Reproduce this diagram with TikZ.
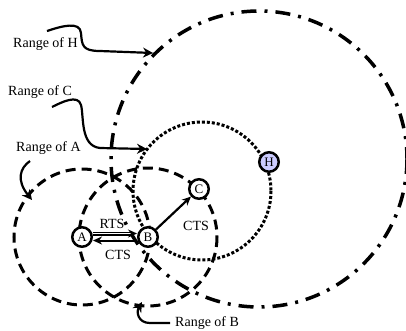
\documentclass[tikz,border=0pt]{standalone}
\usepackage{fontspec}
\setmainfont{Liberation Serif}
\usetikzlibrary{arrows.meta}
\definecolor{hostfill}{RGB}{204,204,255}
\tikzset{
  station/.style={circle, draw, line width=2.5pt, fill=white, minimum size=19.5pt, inner sep=0pt, font=\fontsize{13}{13}\selectfont},
  rangeA/.style={line width=3pt, dash pattern=on 10pt off 6pt},
  rangeC/.style={line width=3pt, dash pattern=on 3pt off 2pt},
  rangeH/.style={line width=3.5pt, dash pattern=on 15pt off 8pt on 3pt off 8pt},
  pointer/.style={line width=2.2pt, -{Stealth[length=10pt,width=10pt]}},
  lbl/.style={font=\fontsize{14}{14}\selectfont, inner sep=0pt},
  msg/.style={line width=1.2pt, double, double distance=1.6pt, -{Stealth[length=9pt,width=8pt]}},
}
\begin{document}
\begin{tikzpicture}[x=1pt,y=-1pt]
\useasboundingbox (0,0) rectangle (406,330);
\begin{scope}
\clip (0,0) rectangle (406,330);
% transmission ranges
\draw[rangeH] (259,159) circle (148);
\draw[rangeA] (82,237) circle (68);
\draw[rangeA] (148,237) circle (69);
\draw[rangeC] (202,191) circle (69);
\end{scope}

% stations
\node[station] (A) at (82,237) {A};
\node[station] (B) at (148,237) {B};
\node[station] (C) at (199,189) {C};
\node[station, fill=hostfill] (H) at (269,162) {H};

% RTS / CTS exchange
\draw[msg] ([yshift=3.5pt]A.east) -- ([yshift=3.5pt]B.west);
\draw[line width=2pt, -{Stealth[length=9pt,width=8pt]}] ([yshift=-3.5pt]B.west) -- ([yshift=-3.5pt]A.east);
\draw[line width=2.2pt, -{Stealth[length=9pt,width=8pt]}] (B) -- (C);
\node[lbl] (rts) at (112,224) {RTS};
\node[lbl] (cts1) at (118,255) {CTS};
\node[lbl] (cts2) at (196,226) {CTS};

% range labels
\node[lbl, anchor=base west] (lH) at (13,47) {Range of H};
\node[lbl, anchor=base west] (lC) at (8,95) {Range of C};
\node[lbl, anchor=base west] (lA) at (16,151) {Range of A};
\node[lbl, anchor=base west] (lB) at (175,326) {Range of B};

\coordinate (tH) at (153,53);
\coordinate (tC) at (147,149);
\coordinate (tA) at (32,200);
\coordinate (tB) at (142,302);

\draw[pointer] (47,31) .. controls (62,26) and (80,21) .. (81,33)
  .. controls (82,45) and (82,51) .. (100,51) -- (tH);
\draw[pointer] (52,107) .. controls (62,102) and (78,94) .. (81,105)
  .. controls (84,116) and (80,146) .. (100,148) -- (tC);
\draw[pointer] (30,161) .. controls (20,168) and (16,180) .. (tA);
\draw[pointer] (170,323) -- (150,323) .. controls (138,323) and (136,312) .. (tB);
\end{tikzpicture}
\end{document}
